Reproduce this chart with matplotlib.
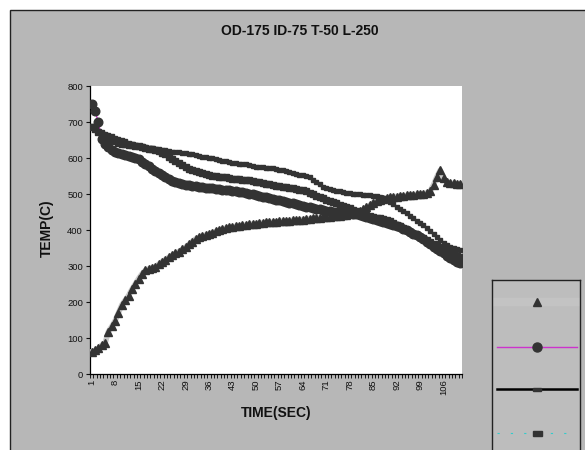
import numpy as np
import matplotlib
matplotlib.use("Agg")
import matplotlib.pyplot as plt
from matplotlib.patches import Rectangle
from matplotlib.lines import Line2D

plt.rcParams['font.family'] = ['Liberation Sans', 'DejaVu Sans']

# time index (categories 1..111)
time_sec = list(range(1, 112))

# triangles, rising series
temp_tri = [62, 66, 72, 80, 86, 118, 132, 148, 170, 192, 205, 218, 235, 250, 265, 278, 288, 292, 295, 298,
            305, 312, 318, 324, 330, 335, 340, 346, 352, 360, 368, 375, 380, 383, 386, 389, 392, 396, 399, 402,
            405, 407, 409, 410, 411, 413, 414, 416, 417, 418, 419, 420, 421, 422, 422, 423, 424, 425, 425, 426,
            427, 427, 428, 429, 430, 431, 432, 433, 434, 435, 436, 437, 438, 439, 440, 442, 443, 444, 446, 448,
            452, 457, 463, 469, 476, 481, 484, 487, 489, 491, 492, 493, 494, 495, 496, 497, 498, 499, 500, 501,
            503, 508, 525, 548, 566, 545, 533, 530, 530, 529, 528]

# circles, starts hottest
temp_circ = [750, 730, 700, 652, 640, 630, 622, 617, 613, 610, 607, 605, 603, 600, 596, 590, 584, 577, 570, 563,
             558, 552, 546, 541, 537, 533, 530, 528, 526, 524, 522, 521, 520, 519, 518, 517, 516, 515, 514, 512,
             511, 510, 509, 507, 506, 505, 503, 501, 499, 497, 495, 493, 491, 489, 486, 484, 482, 480, 478, 476,
             474, 471, 469, 467, 465, 463, 461, 459, 457, 455, 454, 452, 451, 450, 449, 448, 447, 446, 445, 444,
             442, 440, 437, 434, 431, 428, 425, 422, 420, 417, 414, 411, 407, 403, 399, 395, 390, 385, 380, 374,
             368, 361, 354, 348, 342, 336, 329, 323, 317, 312, 307]

# middle curve (black line)
temp_mid = [685, 680, 672, 665, 660, 655, 650, 646, 643, 640, 638, 636, 635, 634, 632, 630, 628, 626, 624, 622,
            619, 615, 610, 604, 598, 592, 586, 580, 575, 570, 566, 563, 560, 558, 555, 552, 550, 549, 548, 547,
            546, 545, 543, 542, 541, 540, 539, 538, 536, 534, 532, 530, 528, 527, 525, 523, 521, 520, 519, 518,
            516, 514, 512, 510, 507, 503, 499, 495, 491, 488, 484, 481, 477, 474, 470, 467, 463, 460, 456, 453,
            449, 446, 442, 439, 437, 434, 432, 430, 428, 424, 420, 415, 410, 405, 400, 395, 390, 386, 381, 377,
            372, 367, 362, 358, 353, 348, 343, 338, 333, 328, 324]

# top curve (cyan dashed line)
temp_top = [688, 682, 676, 672, 668, 664, 660, 656, 652, 649, 646, 643, 640, 637, 634, 632, 630, 628, 627, 626,
            625, 623, 621, 619, 618, 617, 616, 614, 613, 612, 610, 608, 606, 604, 602, 600, 599, 597, 595, 593,
            591, 589, 587, 585, 584, 583, 582, 580, 578, 576, 575, 574, 573, 572, 571, 570, 568, 566, 564, 561,
            558, 556, 554, 553, 551, 546, 539, 533, 527, 520, 516, 513, 511, 509, 507, 505, 503, 502, 501, 500,
            499, 498, 497, 496, 495, 494, 492, 488, 483, 477, 471, 465, 459, 452, 446, 440, 433, 426, 419, 413,
            406, 398, 389, 380, 372, 365, 359, 354, 350, 347, 344]

tick_labels = [str(t) for t in time_sec[::7]]

bg = '#b7b7b7'
mk = '#333333'

fig = plt.figure(figsize=(5.85, 4.5), dpi=100)
fig.patch.set_facecolor('white')
frame = Rectangle((10 / 585, -0.2), 1.2, 1.2 - 10 / 450, transform=fig.transFigure,
                  facecolor=bg, edgecolor='#222222', lw=1.0, zorder=-10)
fig.patches.append(frame)

ax = fig.add_axes([90 / 585, 1 - 374 / 450, 372 / 585, 288 / 450])
ax.set_facecolor('white')

ax.plot(time_sec, temp_tri, color='#c8c8c8', lw=4, marker='^', ms=5.8, mfc=mk, mec=mk, zorder=3)
ax.plot(time_sec, temp_circ, color='#cc33cc', lw=1, marker='o', ms=6.2, mfc=mk, mec=mk, zorder=3)
ax.plot(time_sec, temp_mid, color='black', lw=1.5, marker='s', ms=4.8, mfc=mk, mec=mk, zorder=3)
ax.plot(time_sec, temp_top, color='#33cccc', lw=1, ls='--', marker='s', ms=3.5, mfc=mk, mec=mk, zorder=3)

ax.set_xlim(0.5, 111.5)
ax.set_ylim(0, 800)
ax.set_yticks(range(0, 801, 100))
ax.set_xticks(time_sec[::7])
ax.set_xticklabels(tick_labels, rotation=90)
ax.set_xticks(np.arange(0.5, 112, 1), minor=True)
ax.tick_params(axis='x', which='major', length=0, pad=4, labelsize=6.8, colors='#111111')
ax.tick_params(axis='x', which='minor', length=3, width=0.6, direction='out')
ax.tick_params(axis='y', length=3, width=0.8, pad=2, labelsize=6.8, colors='#111111')
for s in ['top', 'right']:
    ax.spines[s].set_visible(False)
for s in ['left', 'bottom']:
    ax.spines[s].set_color('black')
    ax.spines[s].set_linewidth(0.9)

fig.text(300 / 585, 1 - 31 / 450, 'OD-175 ID-75 T-50 L-250', ha='center', va='center',
         fontsize=10, fontweight='bold', color='#111111')
fig.text(47 / 585, 1 - 228 / 450, 'TEMP(C)', ha='center', va='center', rotation=90,
         fontsize=10, fontweight='bold', color='#111111')
fig.text(276 / 585, 1 - 413 / 450, 'TIME(SEC)', ha='center', va='center',
         fontsize=10, fontweight='bold', color='#111111')

# legend box (labels are cut off in the original), units are pixels
lax = fig.add_axes([492 / 585, 0, 88 / 585, (450 - 280) / 450])
lax.set_facecolor('#bdbdbd')
lax.set_xlim(0, 88)
lax.set_ylim(450, 280)
lax.set_xticks([])
lax.set_yticks([])
lax.spines['bottom'].set_visible(False)
for s in ['left', 'top', 'right']:
    lax.spines[s].set_color('#222222')
    lax.spines[s].set_linewidth(1.0)

# row: y, line colour, width, style, marker, marker size
rows = [(302, '#c3c3c3', 6, '-', '^', 6),
        (347, '#cc33cc', 1, '-', 'o', 6.5),
        (389, 'black', 1.8, '-', 'rect', (8, 3)),
        (433, '#33cccc', 0.8, (0, (2, 10)), 'rect', (9, 5))]
for y, lc, lw, ls, m, ms in rows:
    lax.add_line(Line2D([5, 85], [y, y], color=lc, lw=lw, ls=ls))
    if m == 'rect':
        w, h = ms
        lax.add_patch(Rectangle((45 - w / 2, y - h / 2), w, h, color=mk, zorder=3))
    else:
        lax.plot([45], [y], marker=m, ms=ms, color=mk)

fig.savefig('out.png', dpi=100, facecolor='white')
